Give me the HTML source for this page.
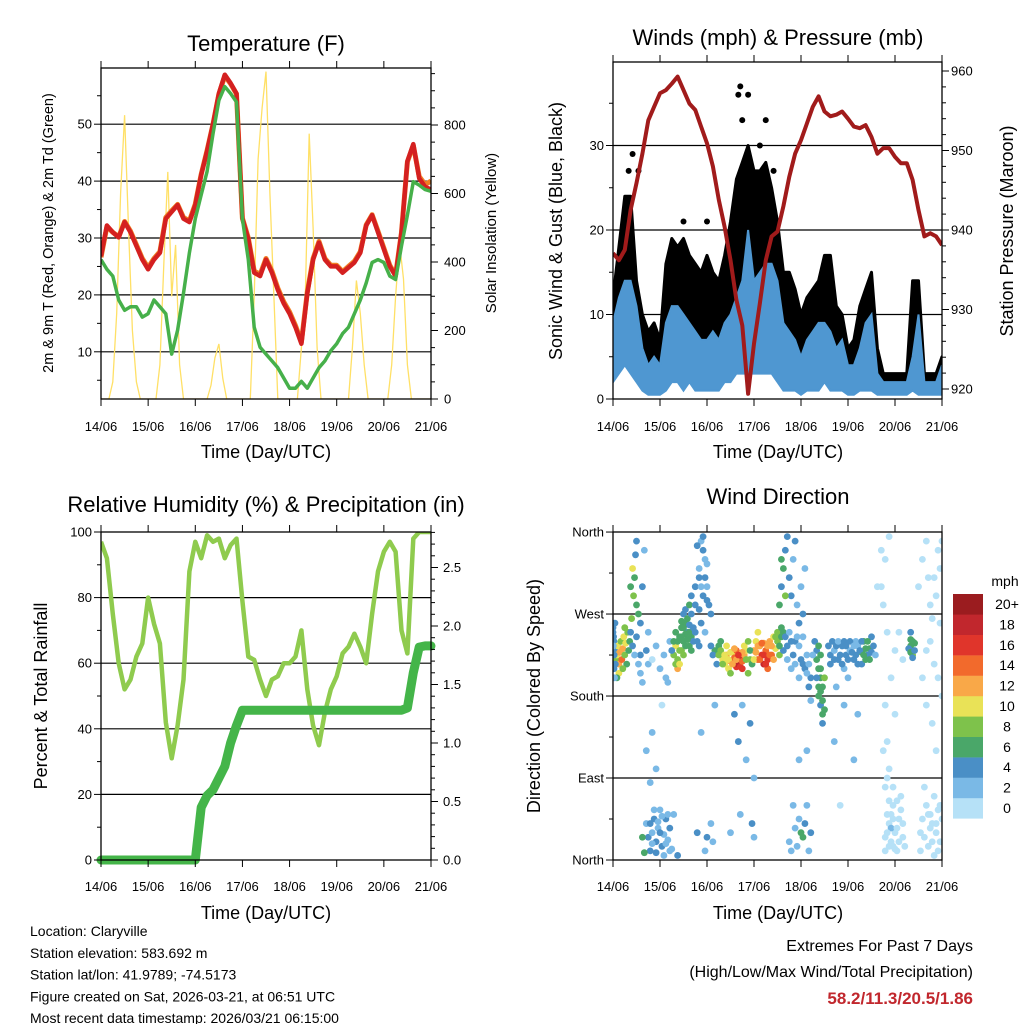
<!DOCTYPE html>
<html><head><meta charset="utf-8"><style>
body{margin:0;background:#fff;}
svg{display:block;font-family:"Liberation Sans",sans-serif;}
</style></head><body>
<svg id="c" width="1024" height="1024" viewBox="0 0 1024 1024">
<defs>
<clipPath id="cp1"><rect x="101" y="68" width="330" height="331"/></clipPath>
<clipPath id="cp2"><rect x="613" y="62" width="329" height="337"/></clipPath>
<clipPath id="cp3"><rect x="101" y="532" width="330" height="328"/></clipPath>
<clipPath id="cp4"><rect x="613" y="532" width="329" height="328"/></clipPath>
</defs>
<g id="g1"></g>
<g id="g2"></g>
<g id="g3"></g>
<g id="g4"></g>
<g id="gt"></g>
</svg>
<script>
const dayLabels=["14/06","15/06","16/06","17/06","18/06","19/06","20/06","21/06"];
// 3-hourly series (index i -> hour 3i)
const temp2m=[26.8,32.2,31,30.1,32.8,31,28.6,26.2,24.5,26.2,27.4,33.4,34.6,35.8,33.4,32.8,35.8,41.1,45.3,50,55.4,58.7,57.2,55.4,33.4,29.8,23.9,23.3,26.2,23.9,20.9,18.5,16.7,14.3,11.4,20.3,26.2,29.2,26.2,25,25,23.9,24.8,25.7,27.4,32.2,34,31,28,25,23.3,31,43.5,46.5,40.5,39,38.5];
const temp9m=[26.6,32,31,30.2,32.9,31.2,28.8,26.4,24.8,26.4,27.6,33.6,34.8,35.9,33.6,33,36,41.2,45.4,50,55.3,58.5,57.1,55.3,33.5,30,24.2,23.6,26.4,24.2,21.2,18.8,17,14.6,11.7,20.5,26.4,29.4,26.4,25.2,25.2,24.1,25,25.9,27.6,32.3,34.1,31.2,28.2,25.2,23.5,31,43.4,46.3,40.8,39.4,40];
const dewpt=[26.2,24.5,23.3,19.1,17.3,17.9,17.9,16.1,16.7,19.1,17.9,16.7,9.6,13.8,20.3,27.4,33.4,37.6,41.7,48.3,54.2,56.6,55.4,53.9,33.4,26.2,14.3,10.8,9.6,8.4,7.2,5.4,3.6,3.6,4.8,3.6,5.4,7.2,8.4,10.2,11.4,13.2,14.3,16.7,19.1,22.1,25.7,26.2,25.7,23.3,22.7,28.6,34,39.9,39.3,38.5,38.2];
// 2-hourly solar insolation
const solar=[0,0,0,50,250,600,829,500,200,50,0,0, 0,0,0,100,400,663,300,450,100,0,0,0, 0,0,0,0,40,120,161,60,0,0,0,0, 0,0,0,300,700,850,956,600,300,0,0,0, 0,0,0,150,300,775,500,150,0,0,0,0, 0,0,0,0,150,346,250,100,0,0,0,0, 0,0,100,300,454,350,100,0,0,0,0,0, 0];
const pressure=[937.1,936.2,937.5,942.5,945.9,949.6,953.8,955.5,957.2,957.6,958.4,959.3,957.6,955.9,955.1,953,950.9,948,943.8,940.4,936.2,931.2,928,919.4,925.7,930.8,936.2,939.2,939.8,943,946.7,949.6,951.3,953.4,955.5,956.8,954.9,954.3,954.5,954.9,954,953,952.8,953.2,951.7,949.6,950.3,950.3,949.2,948.4,948.4,946.3,942.5,939.2,939.6,939.2,938.1];
const windLow=[2,3,4,3,2,1,0.5,0.5,0.5,1,2,2,1,2,1,1,1,1,1,2,2,3,3,3,3,3,3,3,2,1,1,1,0.5,1,1,1,2,1,1,1,0.5,0.5,1,1,1,0.5,0.5,0.5,0.5,0.5,0.5,1,0.5,0.5,0.5,0.5,0.5];
const windHigh=[9,12,14,14,11,6,4,5,4,9,11,11,10,9,8,7,7,8,7,9,10,12,14,20,14,15,16,16,14,9,8,7,5,7,8,9,9,8,6,7,4,4,6,9,10,3,2,2,2,2,2,5,10,2,2,2,4];
const gustLow=[5,8,10,8,6,3,2,2,2,4,6,6,5,6,5,4,4,5,5,6,7,9,10,10,9,10,12,12,8,5,4,4,2,4,4,5,6,5,4,3,2,2,4,5,4,2,1,1,1,1,1,3,2,1,1,1,2];
const gustHigh=[12,18,24,24,14,10,8,9,7,16,19,18,19,17,16,15,17,15,14,17,21,26,28,30,27,27,28,25,21,15,15,13,10,12,13,14,17,17,11,10,6,7,11,13,15,6,3,3,3,3,3,14,14,3,3,3,5];
const gustPeakHour=[8,10,13,36,48,64,65,69,66,78,75,82];
const gustPeakVal=[27,29,27,21,21,36,37,36,33,33,30,27];
const rh=[97,92,75,60,52,55,62,66,80,72,66,42,31,41,55,88,97,92,99,97,98,92,96,98,79,62,61,55,50,55,56,60,60,62,70,52,41,35,45,52,56,63,65,69,65,60,75,88,94,97,94,70,63,98,100,100,100];
const rain=[0,0,0,0,0,0,0,0,0,0,0,0,0,0,0,0,0,0.45,0.55,0.6,0.7,0.8,1.0,1.15,1.28,1.28,1.28,1.28,1.28,1.28,1.28,1.28,1.28,1.28,1.28,1.28,1.28,1.28,1.28,1.28,1.28,1.28,1.28,1.28,1.28,1.28,1.28,1.28,1.28,1.28,1.28,1.28,1.3,1.6,1.82,1.83,1.83];
// wind direction observations [hour, degrees, mph]
const dirObs=[[0.5,240,4],[1,230,5],[1.5,220,8],[2,225,11],[2.5,235,10],[3,215,13],[3.5,228,12],[4,240,9],[4.5,220,14],[5,232,12],[5.5,245,10],[6,225,8],[6.5,238,11],[7,215,7],[7.5,250,9],[8,230,6],[3,205,10],[5,210,8],[2,200,7],[6,255,8],[0,250,4],[1,260,4],[0.5,210,4],
[9,300,7],[10,320,10],[10.5,290,8],[11,310,6],[11.5,335,5],[12,280,7],[13,270,6],[14,260,5],[15,300,4],[16,340,3],[17,230,4],[18,250,3],[12,350,4],[9.5,265,8],[14,225,5],
[17,40,3],[18,25,4],[19,10,5],[20,30,3],[21,45,4],[22,20,5],[23,35,3],[24,55,2],[25,15,4],[26,28,3],[27,45,4],[28,22,3],[29,35,4],[30,12,3],[31,50,2],[33,5,4],[15,25,6],[16,8,7],
[17,120,2],[20,140,3],[22,100,2],[25,170,1],[28,195,2],[19,85,2],
[31,225,8],[32,235,10],[33,220,9],[34,245,7],[35,255,6],[36,240,7],[37,260,6],[38,250,5],[39,235,6],[40,245,7],[33,210,12],[35,230,8],[37,248,6],[39,258,5],[41,240,5],[32,215,9],[36,270,5],[38,265,6],
[40,290,4],[42,300,4],[44,320,3],[45,350,3],[46,340,4],[47,310,4],[48,300,3],[49,280,4],[50,270,4],[44,275,5],[46,290,4],[48,325,3],
[43,30,4],[48,25,4],[50,40,3],[47,10,3],[51,20,2],[45,140,3],[52,170,3],
[52,230,6],[54,235,7],[56,220,10],[57,215,11],[58,225,12],[59,210,10],[60,218,13],[61,228,11],[62,222,14],[63,212,16],[64,215,19],[65,220,18],[66,210,16],[67,225,12],[68,230,10],[69,205,9],[70,220,8],[55,240,6],[60,205,9],[63,230,15],[66,228,13],
[62,160,4],[64,130,4],[66,170,3],[68,110,3],[70,150,4],[72,90,2],[71,40,4],[72,25,3],[60,30,3],[65,50,3],
[72,230,12],[73,240,11],[74,220,14],[75,235,13],[76,225,16],[77,215,18],[78,230,15],[79,220,17],[80,240,12],[81,225,14],[82,245,10],[83,232,11],[84,250,8],[85,225,8],[86,255,6],[74,250,10],[77,238,13],[79,210,15],
[85,280,6],[86,300,4],[87,320,6],[88,340,5],[89,355,4],[90,310,4],[91,290,4],[92,330,3],[93,350,4],[94,280,3],[95,260,4],[96,300,3],[97,270,4],[98,320,3],[88,290,8],[86,330,7],
[90,20,3],[91,10,3],[92,60,3],[93,35,3],[94,15,3],[95,45,3],[96,30,6],[97,25,6],[98,40,4],[99,60,3],[100,10,3],[101,30,4],[95,110,2],[99,120,2],
[87,230,4],[89,220,3],[91,210,3],[93,240,4],[95,200,3],[97,215,4],[99,225,3],[100,190,4],[101,200,4],[101,175,3],
[104,220,6],[105,210,7],[106,200,6],[107,190,7],[105,180,6],[106,170,5],[107,160,6],[108,200,9],[104,230,5],[106,225,6],
[111,225,4],[113,230,3],[115,220,4],[117,235,4],[119,225,4],[121,230,3],[123,220,4],[125,235,3],[127,228,6],[128,240,6],[129,232,6],[130,225,5],[131,220,6],[132,245,5],[127,215,4],[124,240,2],[118,210,3],[114,190,2],
[113,130,3],[118,170,3],[120,200,2],[125,160,3],[116,60,1],[123,110,2],
[135,300,1],[137,340,1],[138,280,1],[140,250,0],[142,200,1],[144,160,1],[138,120,1],[139,80,1],[140,50,1],[141,40,1],[142,20,1],[143,60,1],[144,30,1],[145,10,1],[146,45,1],[147,70,1],[148,25,1],[140,90,1],[142,35,2],[143,15,1],[139,25,1],[141,65,1],
[152,235,6],[153,230,7],[152,242,6],[153,225,8],[154,238,6],
[156,300,1],[158,330,1],[160,350,1],[162,280,1],[164,310,1],[166,340,1],[167,260,1],[158,200,1],[160,170,1],[163,150,1],[165,120,1],[159,80,1],[161,50,1],[163,20,1],[165,40,1],[166,10,1],[167,60,1],[162,35,1],[164,70,1],[157,30,1],
[0,255,4],[0.3,245,4],[0.2,235,3],[0.6,225,4],[1.2,215,5],[0.8,200,3],
[8.5,240,6],[9,250,5],[10,235,4],[11,225,3],[12,245,4],[13,215,3],[14,205,2],[15,195,2],
[18,215,2],[20,220,1],[22,235,2],[24,210,3],[26,225,3],[27,200,3],[29,240,3],
[19,40,4],[20,18,3],[21,55,3],[22,8,4],[23,42,2],[24,30,4],[25,48,3],[26,5,3],[27,18,2],[28,50,3],[29,10,2],
[30,230,5],[31,240,7],[32,250,6],[33,240,6],[34,230,8],[35,245,6],[36,255,6],[37,235,7],[38,242,6],[39,250,6],[40,230,6],[41,255,5],[42,250,4],[43,240,4],[44,235,4],[36,225,9],[34,215,10],[35,262,6],[37,275,5],[39,280,6],[40,270,4],[42,280,4],
[43,345,4],[44,310,4],[45,300,3],[46,355,4],[47,330,3],[48,285,4],[45,260,4],[47,250,3],
[50,235,4],[51,225,5],[53,215,4],[54,225,8],[55,230,8],[56,215,9],[57,225,10],[58,235,10],[59,220,11],[60,228,10],[61,215,12],[62,232,12],[63,220,13],[64,225,16],[65,212,17],[66,218,15],[67,235,10],[68,220,9],[69,240,8],[70,230,6],[71,215,7],
[72,220,10],[73,228,13],[74,235,12],[75,220,15],[76,238,14],[77,225,16],[78,215,16],[79,235,13],[80,225,15],[81,235,12],[82,220,12],[83,245,9],[84,240,9],[85,235,7],[86,245,7],[87,250,6],
[88,245,4],[89,235,4],[90,250,3],[91,240,4],[92,225,4],[93,215,3],[94,245,3],[95,235,2],[96,220,4],[97,245,3],[98,210,4],[99,205,3],[100,215,3],[102,225,3],[103,240,4],[104,200,5],[105,190,6],[106,185,6],[107,175,7],[108,165,6],[107,150,5],[106,210,7],[105,235,6],
[110,235,4],[111,215,4],[112,240,4],[113,220,5],[114,235,4],[115,240,3],[116,225,5],[117,215,4],[118,240,4],[119,235,5],[120,220,4],[121,240,4],[122,228,5],[123,235,3],[124,225,4],[125,215,4],[126,230,5],[127,240,5],[128,225,6],[129,220,7],[130,240,6],[131,232,7],[132,228,5],[133,235,4],[134,225,3],
[139,10,1],[140,30,1],[141,15,1],[142,50,1],[143,45,1],[144,12,1],[145,35,1],[146,20,1],[147,55,1],[148,40,1],[149,15,1],[145,65,1],[143,80,1],[141,100,1],[140,130,1],[139,170,1],[144,230,1],[146,250,1],[148,220,1],[137,300,1],[139,330,1],[141,355,1],
[151,232,5],[152,228,6],[153,240,6],[154,230,5],[152,250,4],[153,222,4],
[157,10,1],[158,45,1],[159,25,1],[160,60,1],[161,15,1],[162,50,1],[163,40,1],[164,5,1],[165,30,1],[166,55,1],[167,20,1],[168,45,1],[160,230,1],[162,240,1],[164,215,1],[166,200,1],[168,180,1],[163,265,1],[165,290,1],[167,320,1],[168,350,1],[161,310,1]];
const speedColors=["#b6e1f7","#7ab9e6","#4a8fc6","#4aa769","#7ec24b","#e9e257","#f9a848","#f26a2c","#e0352b","#c1272d","#9b1c1f"];
const speedLabels=["0","2","4","6","8","10","12","14","16","18","20+"];

const NS="http://www.w3.org/2000/svg";
function mk(parent,tag,attrs,text){const e=document.createElementNS(NS,tag);for(const k in attrs)e.setAttribute(k,attrs[k]);if(text!==undefined)e.textContent=text;parent.appendChild(e);return e;}
function pathFrom(xs,ys){let d="";for(let i=0;i<xs.length;i++)d+=(i?"L":"M")+xs[i].toFixed(1)+","+ys[i].toFixed(1);return d;}

function frame(g,x0,y0,w,h,bottomLabelsY){
  for(let d=0;d<=7;d++){const x=x0+d*w/7;
    const t1=mk(g,"line",{x1:x,y1:y0,x2:x,y2:y0-7,stroke:"#000","stroke-width":1});
    
    const t2=mk(g,"line",{x1:x,y1:y0+h,x2:x,y2:y0+h+7,stroke:"#000","stroke-width":1});
    
    const tl=mk(g,"text",{x:x,y:bottomLabelsY,"font-size":13,"text-anchor":"middle"},dayLabels[d]);
    }
}
function yTicks(g,x,side,vals,yf,major,labelFmt,dx){
  vals.forEach(v=>{const y=yf(v);const len=major(v)?7:4;
    const l=mk(g,"line",{x1:x,y1:y,x2:x+side*len,y2:y,stroke:"#000","stroke-width":1});
    
    if(major(v)){const t=mk(g,"text",{x:x+side*dx,y:y+4.5,"font-size":13,"text-anchor":side<0?"end":"start"},labelFmt(v));
      }
  });
}
function grid(g,x0,w,ys){ys.forEach(y=>{const l=mk(g,"line",{x1:x0,y1:y,x2:x0+w,y2:y,stroke:"#000","stroke-width":1.2});
  });}
function box(g,x,y,w,h){const r=mk(g,"rect",{x:x,y:y,width:w,height:h,fill:"none",stroke:"#000","stroke-width":1.3});
  }
function txt(g,x,y,s,size,name,extra){const a={x:x,y:y,"font-size":size,"text-anchor":"middle"};Object.assign(a,extra||{});
  const t=mk(g,"text",a,s);return t;}
function vtxt(g,x,y,s,size,name){const t=mk(g,"text",{x:x,y:y,"font-size":size,"text-anchor":"middle",transform:"rotate(-90 "+x+" "+y+")"},s);
  }
function range(a,b,s){const r=[];for(let v=a;v<=b+1e-9;v+=s)r.push(+v.toFixed(3));return r;}

// ---------- Panel 1 ----------
(function(){
const g=document.getElementById("g1");
const X=h=>101+h*330/168, YL=v=>408.7-5.69*v, YR=s=>399-s*0.3425;
grid(g,101,330,[10,20,30,40,50].map(YL));
const c=mk(g,"g",{"clip-path":"url(#cp1)"});
const hs3=temp2m.map((_,i)=>X(i*3));
const sl=mk(c,"path",{d:pathFrom(solar.map((_,i)=>X(i*2)),solar.map(YR)),fill:"none",stroke:"#ffe066","stroke-width":1.3});

const o=mk(c,"path",{d:pathFrom(hs3,temp9m.map(YL)),fill:"none",stroke:"#f07f24","stroke-width":5,"stroke-linejoin":"round"});

const r=mk(c,"path",{d:pathFrom(hs3,temp2m.map(YL)),fill:"none",stroke:"#d42020","stroke-width":4.5,"stroke-linejoin":"round"});

const gr=mk(c,"path",{d:pathFrom(hs3,dewpt.map(YL)),fill:"none",stroke:"#46b04a","stroke-width":3.5,"stroke-linejoin":"round"});

box(g,101,68,330,331);
frame(g,101,68,330,331,431);
yTicks(g,101,-1,range(5,55,5),YL,v=>v%10===0,v=>String(v),9);
yTicks(g,431,1,range(0,950,50),YR,v=>v%200===0,v=>String(v),13);
txt(g,266,51,"Temperature (F)",22,"chart-title");
txt(g,266,458,"Time (Day/UTC)",18,"x-axis-title");
vtxt(g,53,233,"2m & 9m T (Red, Orange) & 2m Td (Green)",14.5,"y-axis-title-left");
vtxt(g,496,233,"Solar Insolation (Yellow)",15,"y-axis-title-right");
})();

// ---------- Panel 2 ----------
(function(){
const g=document.getElementById("g2");
const X=h=>613+h*329/168, YW=v=>399-8.45*v, YP=p=>389-(p-920)*7.95;
grid(g,613,329,[10,20,30].map(YW));
const c=mk(g,"g",{"clip-path":"url(#cp2)"});
const hs=gustHigh.map((_,i)=>X(i*3));
const gp=mk(c,"path",{d:pathFrom(hs,gustHigh.map(YW))+pathFrom(hs.slice().reverse(),gustLow.map(YW).reverse()).replace("M","L")+"Z",fill:"#000",stroke:"#000","stroke-width":3,"stroke-linejoin":"round"});

gustPeakHour.forEach((h,i)=>{const d=mk(c,"circle",{cx:X(h),cy:YW(gustPeakVal[i]),r:3,fill:"#000"});
  
  });
const bp=mk(c,"path",{d:pathFrom(hs,windHigh.map(YW))+pathFrom(hs.slice().reverse(),windLow.map(YW).reverse()).replace("M","L")+"Z",fill:"#4f97d1",stroke:"#4f97d1","stroke-width":2});

const pp=mk(c,"path",{d:pathFrom(pressure.map((_,i)=>X(i*3)),pressure.map(YP)),fill:"none",stroke:"#a11b1b","stroke-width":4,"stroke-linejoin":"round"});

box(g,613,62,329,337);
frame(g,613,62,329,337,431);
yTicks(g,613,-1,range(0,35,5),YW,v=>v%10===0,v=>String(v),9);
yTicks(g,942,1,range(920,960,2),YP,v=>v%10===0,v=>String(v),9);
txt(g,778,45,"Winds (mph) & Pressure (mb)",22,"chart-title");
txt(g,778,458,"Time (Day/UTC)",18,"x-axis-title");
vtxt(g,562,231,"Sonic Wind & Gust (Blue, Black)",18,"y-axis-title-left");
vtxt(g,1013,231,"Station Pressure (Maroon)",18,"y-axis-title-right");
})();

// ---------- Panel 3 ----------
(function(){
const g=document.getElementById("g3");
const X=h=>101+h*330/168, YH=v=>860-3.28*v, YR=r=>860-117*r;
grid(g,101,330,[20,40,60,80].map(YH));
const c=mk(g,"g",{"clip-path":"url(#cp3)"});
const hs=rh.map((_,i)=>X(i*3));
const l1=mk(c,"path",{d:pathFrom(hs,rh.map(YH)),fill:"none",stroke:"#8fcb4e","stroke-width":4.5,"stroke-linejoin":"round"});

const l2=mk(g,"path",{d:pathFrom(hs,rain.map(YR)),fill:"none",stroke:"#44b549","stroke-width":9,"stroke-linejoin":"round","stroke-linecap":"round"});

box(g,101,532,330,328);
frame(g,101,532,330,328,891);
yTicks(g,101,-1,range(0,100,10),YH,v=>v%20===0,v=>String(v),9);
yTicks(g,431,1,range(0,2.8,0.1),YR,v=>Math.abs(v*2-Math.round(v*2))<1e-6,v=>v.toFixed(1),12);
txt(g,266,512,"Relative Humidity (%) & Precipitation (in)",22,"chart-title");
txt(g,266,919,"Time (Day/UTC)",18,"x-axis-title");
vtxt(g,47,696,"Percent & Total Rainfall",18,"y-axis-title-left");
})();

// ---------- Panel 4 ----------
(function(){
const g=document.getElementById("g4");
const X=h=>613+h*329/168, YD=d=>860-0.911*d;
grid(g,613,329,[90,180,270].map(YD));
const c=mk(g,"g",{"clip-path":"url(#cp4)"});
dirObs.forEach(o=>{const ci=Math.min(10,Math.floor(o[2]/2));
  const p=mk(c,"circle",{cx:X(o[0]),cy:YD(o[1]),r:3.4,fill:speedColors[ci]});
  
  });
box(g,613,532,329,328);
frame(g,613,532,329,328,891);
const names=["North","East","South","West","North"];
yTicks(g,613,-1,range(0,360,45),YD,v=>v%90===0,v=>names[v/90],9);
txt(g,778,504,"Wind Direction",22,"chart-title");
txt(g,778,919,"Time (Day/UTC)",18,"x-axis-title");
vtxt(g,540,696,"Direction (Colored By Speed)",18,"y-axis-title-left");
const lg=mk(g,"g",{});
txt(lg,1005,586,"mph",14,"colorbar-title");
for(let i=0;i<11;i++){const y=594+(10-i)*20.4;
  const r=mk(lg,"rect",{x:953,y:y,width:30,height:20.6,fill:speedColors[i]});
  
  txt(lg,1007,y+15,speedLabels[i],14,"colorbar-label");}
})();

// ---------- Text ----------
(function(){
const g=document.getElementById("gt");
const lines=["Location: Claryville","Station elevation: 583.692 m","Station lat/lon: 41.9789; -74.5173","Figure created on Sat, 2026-03-21, at 06:51 UTC","Most recent data timestamp: 2026/03/21 06:15:00"];
lines.forEach((s,i)=>txt(g,30,936+i*21.8,s,14,"station-info-line",{"text-anchor":"start"}));
txt(g,973,951,"Extremes For Past 7 Days",16,"extremes-heading",{"text-anchor":"end"});
txt(g,973,977,"(High/Low/Max Wind/Total Precipitation)",16,"extremes-subheading",{"text-anchor":"end"});
txt(g,973,1004,"58.2/11.3/20.5/1.86",17,"extremes-values",{"text-anchor":"end","fill":"#c1272d","font-weight":"bold"});
})();
</script>
</body></html>
